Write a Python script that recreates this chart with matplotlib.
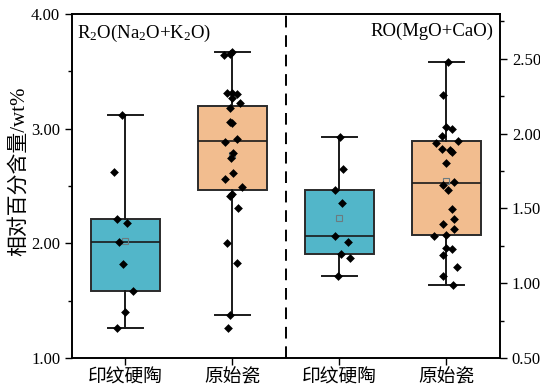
import matplotlib
matplotlib.use("Agg")
import matplotlib.pyplot as plt
import numpy as np
from matplotlib.ticker import MultipleLocator, FormatStrFormatter

plt.rcParams['font.family'] = ['Liberation Serif', 'Noto Sans CJK SC']
plt.rcParams['mathtext.fontset'] = 'custom'
plt.rcParams['mathtext.rm'] = 'Liberation Serif'
plt.rcParams['mathtext.it'] = 'Liberation Serif:italic'

# ── Data ──────────────────────────────────────────────────────────────────
groups = ["印纹硬陶", "原始瓷", "印纹硬陶", "原始瓷"]

# R2O (left axis)
r2o_ywt = [3.12, 2.625, 2.212, 2.18, 2.014, 1.817, 1.584, 1.40, 1.264]
r2o_ycw = [3.666, 3.65, 3.64, 3.31, 3.31, 3.30, 3.265, 3.22, 3.183, 3.06,
           3.05, 2.907, 2.886, 2.785, 2.74, 2.61, 2.558, 2.49, 2.43, 2.413,
           2.306, 2.006, 1.826, 1.372, 1.262]
# RO (right axis)
ro_ywt = [1.98, 1.765, 1.62, 1.538, 1.313, 1.275, 1.198, 1.169, 1.047]
ro_ycw = [2.48, 2.258, 2.042, 2.031, 1.984, 1.953, 1.938, 1.90, 1.89, 1.88,
          1.802, 1.68, 1.658, 1.625, 1.498, 1.43, 1.393, 1.36, 1.32, 1.315,
          1.235, 1.227, 1.187, 1.109, 1.047, 0.987]

# horizontal scatter of the points around each box centre
jit_r2o_ywt = [-0.03, -0.107, -0.077, 0.011, -0.058, -0.02, 0.073, 0.0, -0.082]
jit_r2o_ycw = [-0.008, -0.023, -0.077, -0.054, -0.008, 0.039, -0.008, 0.07,
               -0.023, -0.023, -0.008, 0.039, -0.07, 0.008, -0.017, 0.008,
               -0.07, 0.086, 0.0, -0.023, 0.049, -0.054, 0.045, -0.02, -0.045]
jit_ro_ywt = [0.005, 0.03, -0.04, 0.026, -0.045, 0.082, 0.011, 0.10, -0.011]
jit_ro_ycw = [0.017, -0.03, -0.007, 0.054, -0.039, 0.11, -0.098, -0.045,
              0.033, 0.049, -0.005, 0.073, -0.03, 0.011, 0.054, 0.07, -0.036,
              0.07, -0.005, -0.114, 0.0, 0.054, -0.036, 0.10, -0.03, 0.064]

# box statistics: q1, median, q3, lower whisker, upper whisker, mean
box_q1   = [1.584, 2.462, 1.198, 1.32]
box_med  = [2.014, 2.895, 1.313, 1.669]
box_q3   = [2.212, 3.198, 1.62, 1.95]
box_lo   = [1.264, 1.372, 1.047, 0.987]
box_hi   = [3.12, 3.666, 1.98, 2.48]
box_mean = [2.023, 2.77, 1.435, 1.682]

BLUE   = "#52b6c9"
ORANGE = "#f2bd8f"
colors = [BLUE, ORANGE, BLUE, ORANGE]

# ── Figure ────────────────────────────────────────────────────────────────
fig = plt.figure(figsize=(5.4, 3.88), dpi=100)
ax = fig.add_axes([0.1333, 0.0773, 0.7926, 0.8866])
ax2 = ax.twinx()

def draw_box(axis, i):
    st = [dict(q1=box_q1[i], med=box_med[i], q3=box_q3[i],
               whislo=box_lo[i], whishi=box_hi[i], mean=box_mean[i], fliers=[])]
    return axis.bxp(st, positions=[i + 1], widths=0.64, capwidths=0.32,
                    patch_artist=True, showmeans=True,
                    boxprops=dict(facecolor=colors[i], edgecolor="#2b2b2b", linewidth=1.4),
                    medianprops=dict(color="#1a1a1a", linewidth=1.2),
                    whiskerprops=dict(color="#1a1a1a", linewidth=1.4),
                    capprops=dict(color="#1a1a1a", linewidth=1.4),
                    meanprops=dict(marker="s", markerfacecolor="none",
                                   markeredgecolor="#6b7b80", markersize=5,
                                   markeredgewidth=0.8),
                    manage_ticks=False)

def draw_points(axis, pos, vals, jit):
    axis.scatter(pos + np.array(jit), vals, marker="D", s=20, color="black",
                 zorder=5, linewidths=0)

for i in range(2):
    draw_box(ax, i)
for i in range(2, 4):
    draw_box(ax2, i)

draw_points(ax, 1, r2o_ywt, jit_r2o_ywt)
draw_points(ax, 2, r2o_ycw, jit_r2o_ycw)
draw_points(ax2, 3, ro_ywt, jit_ro_ywt)
draw_points(ax2, 4, ro_ycw, jit_ro_ycw)

ax.axvline(2.5, color="black", linestyle=(0, (6, 4)), linewidth=1.4)

# ── Axes ──────────────────────────────────────────────────────────────────
ax.set_xlim(0.5, 4.5)
ax.set_ylim(1.0, 4.0)
ax2.set_ylim(0.5, 2.8)

ax.set_xticks([1, 2, 3, 4])
ax.set_xticklabels(groups, fontsize=13.5)
ax.yaxis.set_major_locator(MultipleLocator(1.0))
ax.yaxis.set_minor_locator(MultipleLocator(0.5))
ax.yaxis.set_major_formatter(FormatStrFormatter("%.2f"))
ax2.yaxis.set_major_locator(MultipleLocator(0.5))
ax2.yaxis.set_minor_locator(MultipleLocator(0.25))
ax2.yaxis.set_major_formatter(FormatStrFormatter("%.2f"))

for a in (ax, ax2):
    a.tick_params(which="both", direction="out", width=1.0, labelsize=12)
    a.tick_params(which="major", length=5)
    a.tick_params(which="minor", length=3)
    for s in a.spines.values():
        s.set_linewidth(1.2)
ax.tick_params(axis="x", labelsize=13.5)

ax.set_ylabel("相对百分含量/wt%", fontsize=15)
ax.yaxis.set_label_coords(-0.10, 0.544)

ax.text(0.012, 0.975, "R$_2$O(Na$_2$O+K$_2$O)", transform=ax.transAxes,
        ha="left", va="top", fontsize=13.5)
ax.text(0.985, 0.975, "RO(MgO+CaO)", transform=ax.transAxes,
        ha="right", va="top", fontsize=13.5)

fig.savefig("out.png", dpi=100)
